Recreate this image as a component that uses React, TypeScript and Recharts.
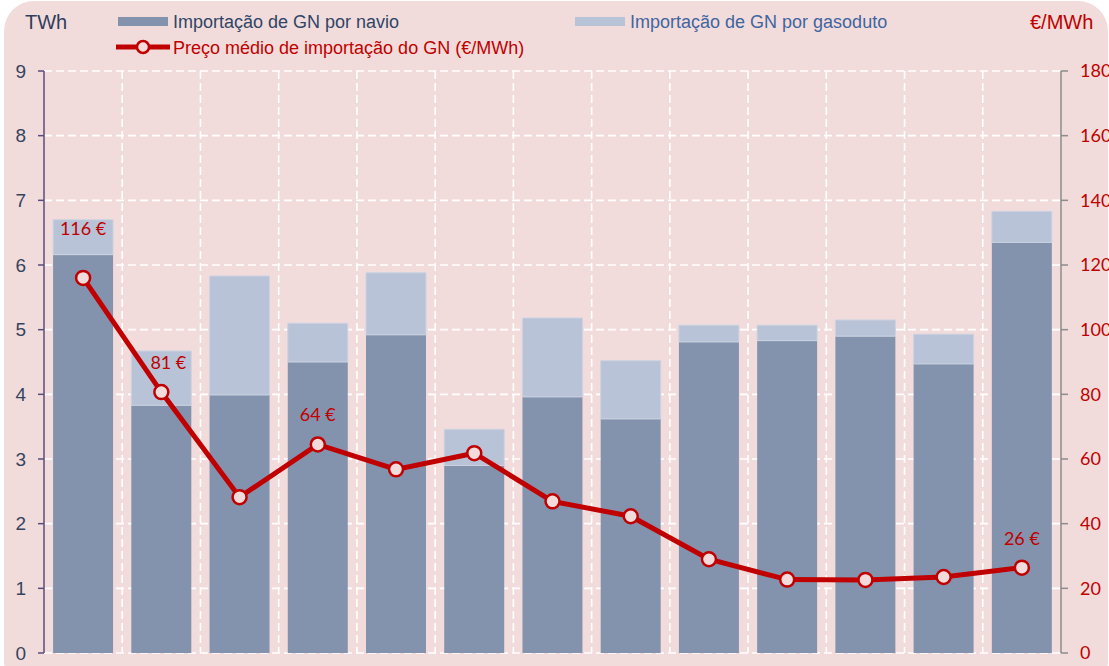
import React from 'react';
import { ComposedChart, Bar, Line, XAxis, YAxis, CartesianGrid, LabelList } from 'recharts';

const periods = ['P1', 'P2', 'P3', 'P4', 'P5', 'P6', 'P7', 'P8', 'P9', 'P10', 'P11', 'P12', 'P13'];
const shipImports = [6.16, 3.83, 3.99, 4.5, 4.92, 2.9, 3.96, 3.62, 4.81, 4.83, 4.9, 4.47, 6.35];
const pipelineImports = [0.54, 0.84, 1.84, 0.6, 0.96, 0.56, 1.22, 0.9, 0.26, 0.24, 0.25, 0.46, 0.48];
const avgPrice = [116, 80.7, 48.2, 64.5, 56.8, 61.8, 46.9, 42.3, 29, 22.7, 22.6, 23.5, 26.4];
const priceLabels = ['116 €', '81 €', '', '64 €', '', '', '', '', '', '', '', '', '26 €'];
const leftTicks = [0, 1, 2, 3, 4, 5, 6, 7, 8, 9];
const rightTicks = [0, 20, 40, 60, 80, 100, 120, 140, 160, 180];

const data = periods.map((p, i) => ({
  p,
  ship: shipImports[i],
  pipe: pipelineImports[i],
  price: avgPrice[i],
  lbl: priceLabels[i],
}));

const RED = '#c00000';
const BG = '#f2dcdb';
const SHIP = '#8393ae';
const PIPE = '#b9c3d7';

const PriceLabel = (props: any) => {
  const { x, y, value, index } = props;
  if (!value) return null;
  const dy = index === 0 ? 50 : 30;
  const dx = index === 1 ? 7 : 0;
  return (
    <text x={x + dx} y={y - dy} textAnchor="middle" dominantBaseline="central" fill={RED} fontFamily="Lato" fontSize={18}>
      {value}
    </text>
  );
};

const Dot = (props: any) => {
  const { cx, cy } = props;
  return <circle cx={cx} cy={cy} r={7} fill={BG} stroke={RED} strokeWidth={2.5} />;
};

export default function App() {
  return (
    <div style={{ position: 'absolute', left: 0, top: 0, width: 1109, height: 666, overflow: 'hidden', background: '#fff' }}>
      <div style={{ position: 'absolute', left: 4, top: 1, width: 1104, height: 690, background: BG, borderRadius: 30 }} />
      <div style={{ position: 'absolute', left: 0, top: 0 }}>
        <ComposedChart width={1109} height={666} data={data} margin={{ top: 71, right: 0, bottom: 13, left: 0 }} barCategoryGap="11.6%">
          <CartesianGrid
            yAxisId="left"
            stroke="#ffffff"
            strokeWidth={1.6}
            strokeDasharray="8 4"
            verticalCoordinatesGenerator={({ offset }: any) =>
              Array.from({ length: periods.length - 1 }, (_, i) => offset.left + ((i + 1) * offset.width) / periods.length)
            }
          />
          <XAxis dataKey="p" hide />
          <YAxis
            yAxisId="left"
            orientation="left"
            domain={[0, 9]}
            ticks={leftTicks}
            width={44}
            stroke="#5b4b7e"
            strokeWidth={1.5}
            tickSize={6}
            tickMargin={12}
            tick={{ fill: '#34445f', fontSize: 19, fontFamily: 'Liberation Sans' }}
            interval={0}
          />
          <YAxis
            yAxisId="right"
            orientation="right"
            domain={[0, 180]}
            ticks={rightTicks}
            width={48}
            stroke="#8c8c8c"
            strokeWidth={1.5}
            tickSize={7}
            tickMargin={12}
            tick={{ fill: RED, fontSize: 18, fontFamily: 'Lato', textAnchor: 'start' }}
            interval={0}
          />
          <Bar yAxisId="left" dataKey="ship" stackId="a" fill={SHIP} isAnimationActive={false} />
          <Bar yAxisId="left" dataKey="pipe" stackId="a" fill={PIPE} stroke="#ccd3e2" strokeWidth={1} isAnimationActive={false} />
          <Line
            yAxisId="right"
            dataKey="price"
            stroke={RED}
            strokeWidth={5}
            dot={<Dot />}
            activeDot={false}
            isAnimationActive={false}
          >
            <LabelList dataKey="lbl" content={<PriceLabel />} />
          </Line>
        </ComposedChart>
      </div>
      <svg width={1109} height={70} style={{ position: 'absolute', left: 0, top: 0 }}>
        <text x={25} y={29} fontFamily="Liberation Sans" fontSize={20} fill="#2f3e5c">TWh</text>
        <rect x={118} y={17} width={50} height={9} fill={SHIP} />
        <text x={173} y={28} fontFamily="Liberation Sans" fontSize={18} fill="#2e4566">Importação de GN por navio</text>
        <rect x={575} y={17} width={50} height={9} fill={PIPE} />
        <text x={630} y={28} fontFamily="Liberation Sans" fontSize={18} fill="#3f65a0">Importação de GN por gasoduto</text>
        <line x1={116} y1={47} x2={170} y2={47} stroke={RED} strokeWidth={5} />
        <circle cx={143} cy={47} r={6} fill={BG} stroke={RED} strokeWidth={2.5} />
        <text x={173} y={54} fontFamily="Liberation Sans" fontSize={18} fill={RED}>Preço médio de importação do GN (€/MWh)</text>
        <text x={1030} y={29} fontFamily="Liberation Sans" fontSize={20} fill={RED}>€/MWh</text>
      </svg>
    </div>
  );
}
